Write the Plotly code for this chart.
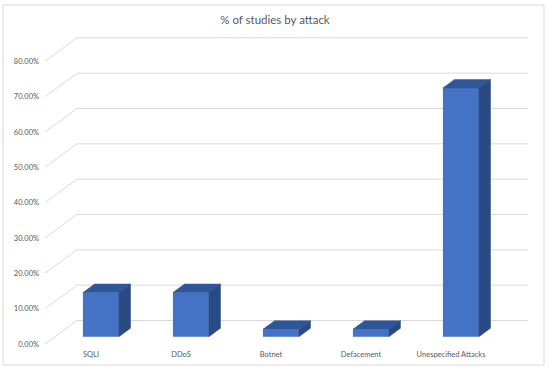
import plotly.graph_objects as go

categories = ["SQLI", "DDoS", "Botnet", "Defacement", "Unespecified Attacks"]
values = [12.5, 12.5, 2.1, 2.1, 70.4]
tick_vals = [0, 10, 20, 30, 40, 50, 60, 70, 80]
tick_text = ["0.00%", "10.00%", "20.00%", "30.00%", "40.00%", "50.00%", "60.00%", "70.00%", "80.00%"]

# layout geometry (pixels)
W, H = 550, 373
ML, MR, MT, MB = 43, 15, 26, 29
XR = [-0.5333, 4.9333]
YR = [0, 90]
px_x = (W - ML - MR) / (XR[1] - XR[0])
px_y = (H - MT - MB) / (YR[1] - YR[0])
SLANT = 1.36


def depth(d_px):
    return SLANT * d_px / px_x, d_px / px_y


wdx, wdy = depth(23.5)   # back wall
fdx, fdy = depth(7.3)    # bar front face
bdx, bdy = depth(15.8)   # bar back face
bw = 36 / px_x           # bar width
x_left = XR[0] + 2 / px_x
x_right = XR[1] - 7 / px_x

grid_col = "#D9D9D9"
text_col = "#595959"
front_col = "#4472C4"
top_col = "#30569A"
side_col = "#2A4A84"

fig = go.Figure()

shapes = []
for v in tick_vals:
    shapes.append(dict(type="line", xref="x", yref="y", layer="below",
                       x0=x_left, y0=v, x1=x_left + wdx, y1=v + wdy,
                       line=dict(color=grid_col, width=1)))
    shapes.append(dict(type="line", xref="x", yref="y", layer="below",
                       x0=x_left + wdx, y0=v + wdy, x1=x_right, y1=v + wdy,
                       line=dict(color=grid_col, width=1)))
# chart border
shapes.append(dict(type="rect", xref="paper", yref="paper",
                   x0=(3 - ML) / (W - ML - MR), x1=(544 - ML) / (W - ML - MR),
                   y0=(H - MB - 365) / (H - MT - MB), y1=(H - MB - 5) / (H - MT - MB),
                   line=dict(color="#D9D9D9", width=1), layer="below"))

xs = list(range(len(categories)))
fig.add_trace(go.Bar(x=[i + fdx for i in xs], y=values, base=fdy, width=bw,
                     marker=dict(color=front_col, line=dict(width=0)),
                     hoverinfo="skip"))

top_x, top_y, side_x, side_y = [], [], [], []
for i, v in zip(xs, values):
    l, r = i - bw / 2, i + bw / 2
    top_x += [l + fdx, r + fdx, r + bdx, l + bdx, l + fdx, None]
    top_y += [v + fdy, v + fdy, v + bdy, v + bdy, v + fdy, None]
    side_x += [r + fdx, r + fdx, r + bdx, r + bdx, r + fdx, None]
    side_y += [fdy, v + fdy, v + bdy, bdy, fdy, None]

fig.add_trace(go.Scatter(x=top_x, y=top_y, mode="lines", fill="toself",
                         fillcolor=top_col, line=dict(width=0.5, color=top_col),
                         hoverinfo="skip"))
fig.add_trace(go.Scatter(x=side_x, y=side_y, mode="lines", fill="toself",
                         fillcolor=side_col, line=dict(width=0.5, color=side_col),
                         hoverinfo="skip"))

fig.update_layout(
    width=W, height=H,
    margin=dict(l=ML, r=MR, t=MT, b=MB),
    paper_bgcolor="white", plot_bgcolor="white",
    showlegend=False,
    shapes=shapes,
    font=dict(family="Lato", color=text_col),
    title=dict(text="% of studies by attack", x=0.5, xanchor="center",
               y=1 - 20 / H, yanchor="middle",
               font=dict(family="Lato", size=11.5, color=text_col)),
    xaxis=dict(range=XR, tickvals=xs, ticktext=categories, showgrid=False,
               zeroline=False, showline=False, ticks="", fixedrange=True,
               ticklabelstandoff=4,
               tickfont=dict(size=7.5, color=text_col)),
    yaxis=dict(range=YR, tickvals=tick_vals, ticktext=tick_text, showgrid=False,
               zeroline=False, showline=False, ticks="", fixedrange=True,
               ticklabelstandoff=3,
               tickfont=dict(size=7.5, color=text_col)),
)

fig.write_html("out.html", config={"displayModeBar": False},
               post_script="document.body.style.margin='0';document.body.style.padding='0';")
